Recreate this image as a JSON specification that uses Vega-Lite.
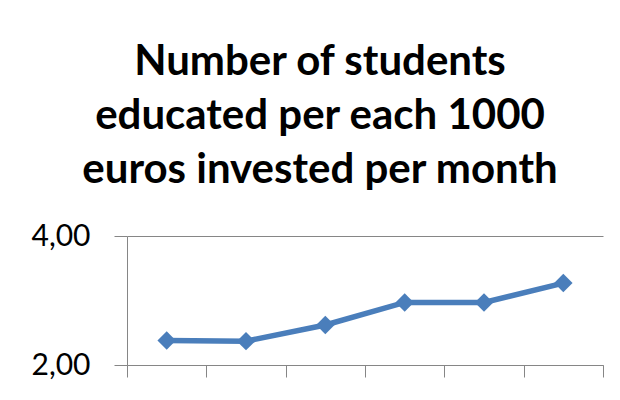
{
  "$schema": "https://vega.github.io/schema/vega-lite/v6.json",
  "width": 476,
  "height": 129,
  "autosize": {"type": "none"},
  "padding": {"left": 127, "top": 236, "right": 17, "bottom": 35},
  "background": "white",
  "title": {
    "text": ["Number of students", "educated per each 1000", "euros invested per month"],
    "font": "Lato",
    "fontSize": 42,
    "fontWeight": "bold",
    "color": "#000000",
    "lineHeight": 54,
    "anchor": "middle",
    "frame": "group",
    "dx": -45,
    "offset": 29
  },
  "data": {
    "values": [
      {"period": 1, "students": 2.38},
      {"period": 2, "students": 2.37},
      {"period": 3, "students": 2.62},
      {"period": 4, "students": 2.97},
      {"period": 5, "students": 2.97},
      {"period": 6, "students": 3.27}
    ]
  },
  "mark": {
    "type": "line",
    "color": "#4a7ebb",
    "strokeWidth": 5.5,
    "point": {"shape": "diamond", "size": 340, "filled": true, "color": "#4a7ebb", "opacity": 1}
  },
  "encoding": {
    "x": {
      "field": "period",
      "type": "quantitative",
      "scale": {"domain": [0.5, 6.5], "nice": false, "zero": false},
      "axis": {
        "title": null,
        "values": [0.5, 1.5, 2.5, 3.5, 4.5, 5.5, 6.5],
        "labels": false,
        "grid": false,
        "tickSize": 12,
        "domainColor": "#868686",
        "tickColor": "#868686",
        "domainWidth": 1,
        "tickWidth": 1
      }
    },
    "y": {
      "field": "students",
      "type": "quantitative",
      "scale": {"domain": [2, 4], "nice": false, "zero": false},
      "axis": {
        "title": null,
        "values": [2, 4],
        "labelExpr": "replace(format(datum.value, '.2f'), '.', ',')",
        "labelFont": "Lato",
        "labelFontSize": 30,
        "labelColor": "#000000",
        "labelPadding": 24,
        "tickSize": 13,
        "grid": true,
        "gridColor": "#868686",
        "gridWidth": 1,
        "domainColor": "#868686",
        "tickColor": "#868686",
        "labelFlush": false
      }
    }
  },
  "config": {"view": {"stroke": null}}
}
